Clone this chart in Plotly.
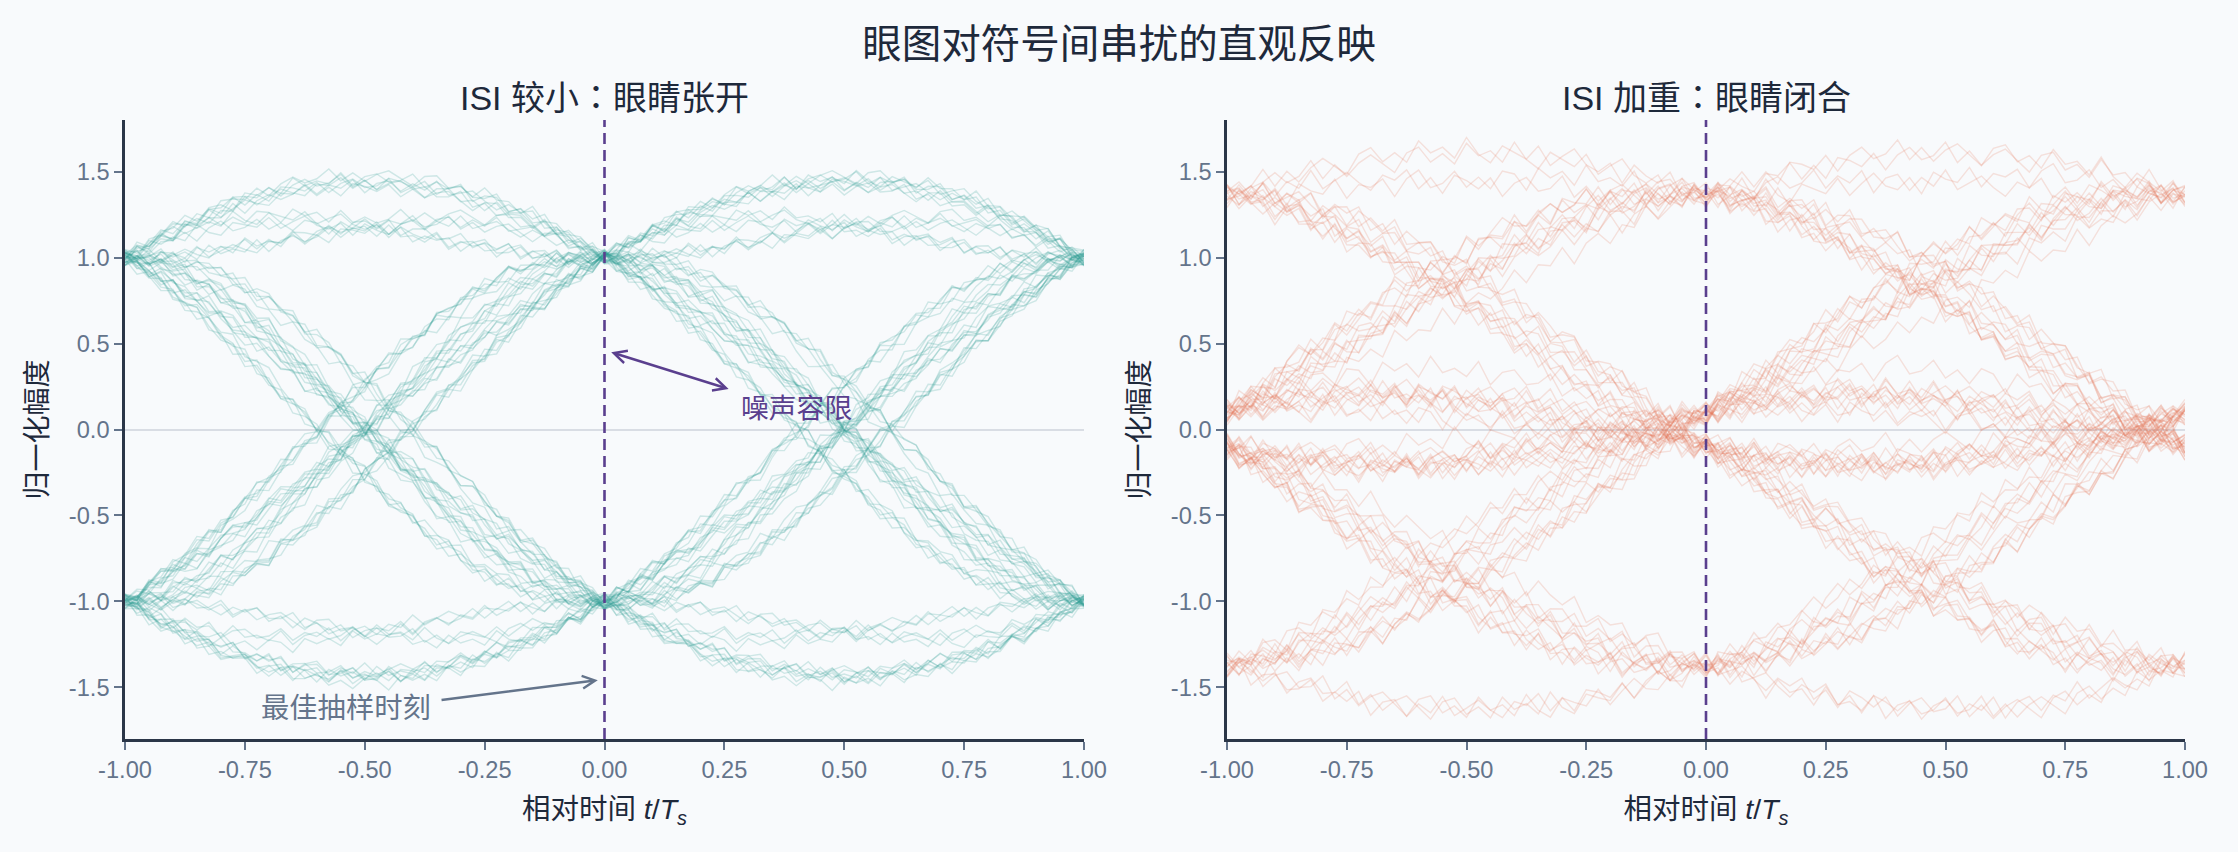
import numpy as np
import plotly.graph_objects as go

# ---------------- data ----------------
TITLE = "眼图对符号间串扰的直观反映"
PANEL_TITLES = [("ISI 较小", "眼睛张开"), ("ISI 加重", "眼睛闭合")]
X_TITLE = "相对时间 <i>t</i>/<i>T</i><sub><i>s</i></sub>"
Y_TITLE = "归一化幅度"
X_TICKS = [-1.0, -0.75, -0.5, -0.25, 0.0, 0.25, 0.5, 0.75, 1.0]
X_TICK_LABELS = ["-1.00", "-0.75", "-0.50", "-0.25", "0.00", "0.25", "0.50", "0.75", "1.00"]
Y_TICKS = [-1.5, -1.0, -0.5, 0.0, 0.5, 1.0, 1.5]
Y_TICK_LABELS = ["-1.5", "-1.0", "-0.5", "0.0", "0.5", "1.0", "1.5"]
X_RANGE = [-1.0, 1.0]
Y_RANGE = [-1.8, 1.8]

# transmitted bit streams (1 -> +1, 0 -> -1)
BITS_LOW_ISI = [1, 0, 1, 1, 0, 0, 1, 0, 1, 1,
                1, 0, 0, 1, 0, 0, 0, 1, 1, 0,
                1, 0, 1, 1, 0, 1, 0, 0, 1, 1,
                0, 0, 0, 1, 0, 1, 1, 1, 0, 1,
                0, 0, 1, 0, 1, 1, 0, 0, 1, 1,
                1, 0, 0, 1, 0, 1, 0, 1, 1, 0,
                0, 0, 1, 1, 0, 1, 1, 0, 1, 0,
                0, 1, 1, 1, 0, 0, 1, 0, 1, 0,
                0, 1, 1, 0, 1, 1, 0, 0]
BITS_HIGH_ISI = [0, 1, 1, 0, 1, 0, 0, 0, 1, 1,
                 0, 1, 0, 1, 1, 1, 0, 0, 1, 0,
                 1, 1, 0, 0, 1, 0, 1, 0, 0, 1,
                 1, 1, 1, 0, 0, 0, 1, 0, 1, 1,
                 0, 1, 0, 0, 1, 1, 0, 1, 0, 1,
                 1, 0, 0, 1, 1, 0, 0, 0, 1, 0,
                 1, 1, 0, 1, 0, 0, 1, 1, 1, 0,
                 0, 1, 0, 1, 1, 0, 0, 1, 0, 0,
                 1, 1, 0, 1, 0, 1, 1, 0]

# channel taps (main cursor, post-cursor)
TAPS_LOW_ISI = [1.0]
TAPS_HIGH_ISI = [0.735, 0.635]
ROLLOFF = 0.5

# additive noise texture table
NOISE_TABLE = [
    0.42, -0.87, 0.15, 0.63, -0.31, -0.05, 0.91, -0.58, 0.27, -0.74,
    0.08, 0.55, -0.19, -0.96, 0.37, 0.71, -0.44, 0.12, -0.66, 0.83,
    -0.09, 0.29, -0.52, 0.98, -0.23, -0.81, 0.47, 0.04, -0.35, 0.69,
    -0.61, 0.18, 0.86, -0.14, -0.48, 0.33, -0.92, 0.59, 0.02, -0.27,
    0.77, -0.69, 0.24, -0.03, 0.51, -0.84, 0.39, 0.94, -0.41, -0.17,
    0.65, -0.57, 0.11, -0.78, 0.45, 0.21, -0.99, 0.58, -0.12, 0.36,
    -0.63, 0.88, -0.29, 0.07, -0.46, 0.73, -0.85, 0.19, 0.52, -0.38,
    -0.07, 0.81, -0.55, 0.31, -0.21, 0.67, -0.93, 0.14, 0.43, -0.71,
    0.26, -0.33, 0.89, -0.49, 0.05, 0.61, -0.16, -0.75, 0.35, -0.01,
    0.74, -0.62, 0.22, -0.89, 0.48, 0.13, -0.43]
NOISE_LEVELS = [0.05, 0.08]

SAMPLES_PER_TRACE = 81

# ---------------- styles ----------------
FONT = "Liberation Sans, Noto Sans CJK SC, sans-serif"
FONT_TC = "Noto Sans CJK TC"
BG = "#f8fafc"
TEXT_DARK = "#1e293b"
TICK_GRAY = "#64748b"
AXIS_LINE = "#2b3648"
PURPLE = "#5a3f8e"
ZERO_LINE = "#d9dde4"
TRACE_COLORS = ["rgba(42,157,143,0.20)", "rgba(231,111,81,0.19)"]


def raised_cosine(t, beta):
    t = np.asarray(t, dtype=float)
    denom = 1.0 - (2.0 * beta * t) ** 2
    sing = np.abs(denom) < 1e-9
    safe = np.where(sing, 1.0, denom)
    val = np.sinc(t) * np.cos(np.pi * beta * t) / safe
    lim = np.pi / 4.0 * np.sinc(1.0 / (2.0 * beta))
    return np.where(sing, lim, val)


def build_traces(bits, taps, noise_level, stride, offset):
    a = np.array([1.0 if b else -1.0 for b in bits])
    b = np.zeros_like(a)
    for m, h in enumerate(taps):
        b[m:] += h * a[: len(a) - m]
    t = np.linspace(X_RANGE[0], X_RANGE[1], SAMPLES_PER_TRACE)
    nt = np.array(NOISE_TABLE)
    L = len(nt)
    traces = []
    span = 6
    for i, c in enumerate(range(span, len(a) - span)):
        y = np.zeros_like(t)
        for k in range(c - span, c + span + 1):
            y += b[k] * raised_cosine(t - (k - c), ROLLOFF)
        idx = (np.arange(len(t)) + stride * i + offset) % L
        y = y + noise_level * nt[idx]
        traces.append(y)
    return t, traces


fig = go.Figure()

panels = [
    (BITS_LOW_ISI, TAPS_LOW_ISI, NOISE_LEVELS[0], 37, 0),
    (BITS_HIGH_ISI, TAPS_HIGH_ISI, NOISE_LEVELS[1], 53, 11),
]
for p, (bits, taps, nl, stride, off) in enumerate(panels):
    t, traces = build_traces(bits, taps, nl, stride, off)
    xa = "x" if p == 0 else "x2"
    ya = "y" if p == 0 else "y2"
    for y in traces:
        fig.add_trace(go.Scatter(
            x=t, y=y, mode="lines", xaxis=xa, yaxis=ya,
            line=dict(color=TRACE_COLORS[p], width=1.4),
            hoverinfo="skip", showlegend=False))

W, H = 2238, 852
xdom = [[125 / W, 1084 / W], [1227 / W, 2185 / W]]
ydom = [(H - 739) / H, (H - 120) / H]

axis_common = dict(
    showline=True, linecolor=AXIS_LINE, linewidth=2.5,
    ticks="outside", ticklen=8, tickwidth=2, tickcolor=TICK_GRAY,
    tickfont=dict(size=23.6, color=TICK_GRAY, family=FONT),
    showgrid=False, mirror=False, automargin=False,
)

layout = dict(
    width=W, height=H,
    margin=dict(l=0, r=0, t=0, b=0, autoexpand=False),
    paper_bgcolor=BG, plot_bgcolor=BG,
    showlegend=False,
    font=dict(family=FONT, color=TEXT_DARK),
    title=dict(text=TITLE, x=0.5, xanchor="center", xref="container",
               y=1 - 44 / H, yanchor="middle", yref="container",
               font=dict(size=39.5, color=TEXT_DARK, family=FONT)),
)
for p in range(2):
    sx = "" if p == 0 else "2"
    layout["xaxis" + sx] = dict(
        axis_common, domain=xdom[p], anchor="y" + sx, range=X_RANGE,
        tickvals=X_TICKS, ticktext=X_TICK_LABELS, zeroline=False,
        title=dict(text=X_TITLE, font=dict(size=28.5, color=TEXT_DARK, family=FONT), standoff=17),
    )
    layout["yaxis" + sx] = dict(
        axis_common, domain=ydom, anchor="x" + sx, range=Y_RANGE,
        tickvals=Y_TICKS, ticktext=Y_TICK_LABELS,
        zeroline=True, zerolinecolor=ZERO_LINE, zerolinewidth=2,
        title=dict(text=Y_TITLE, font=dict(size=28, color=TEXT_DARK, family=FONT), standoff=14),
    )
fig.update_layout(**layout)

# sampling-instant dashed lines
for p in range(2):
    sx = "" if p == 0 else "2"
    fig.add_shape(type="line", xref="x" + sx, yref="y" + sx + " domain",
                  x0=0, x1=0, y0=0, y1=1, layer="above",
                  line=dict(color=PURPLE, width=2.6, dash="11px,6px"))

annotations = []
# panel titles
for p in range(2):
    left, right = PANEL_TITLES[p]
    txt = '%s<span style="font-family:%s">：</span>%s' % (left, FONT_TC, right)
    annotations.append(dict(
        text=txt, xref="paper", yref="paper",
        x=(xdom[p][0] + xdom[p][1]) / 2, y=(H - 96) / H,
        xanchor="center", yanchor="middle", showarrow=False,
        font=dict(size=34, color=TEXT_DARK, family=FONT)))

# noise margin annotation (left panel)
annotations.append(dict(
    text="噪声容限", xref="x", yref="y", x=0.28, y=0.12,
    xanchor="left", yanchor="middle", showarrow=False,
    font=dict(size=27.8, color=PURPLE, family=FONT)))
annotations.append(dict(
    text="", xref="x", yref="y", x=0.014, y=0.449, axref="x", ayref="y",
    ax=0.262, ay=0.233, showarrow=True, arrowside="end+start",
    arrowhead=5, startarrowhead=5, arrowsize=1.0, startarrowsize=1.0,
    arrowwidth=2.5, arrowcolor=PURPLE, standoff=0, startstandoff=0))

# best sampling time annotation
annotations.append(dict(
    text="最佳抽样时刻", xref="x", yref="y", x=-0.72, y=-1.62,
    xanchor="left", yanchor="middle", showarrow=False,
    font=dict(size=28.3, color=TICK_GRAY, family=FONT)))
annotations.append(dict(
    text="", xref="x", yref="y", x=-0.014, y=-1.458, axref="x", ayref="y",
    ax=-0.343, ay=-1.574, showarrow=True,
    arrowhead=5, arrowsize=1.0, arrowwidth=2.5, arrowcolor=TICK_GRAY, standoff=0))

fig.update_layout(annotations=annotations)

fig.write_html(
    "out.html",
    config={"displayModeBar": False},
    post_script="document.body.style.margin='0';document.body.style.background='%s';"
                "document.body.style.overflow='hidden';" % BG,
)
